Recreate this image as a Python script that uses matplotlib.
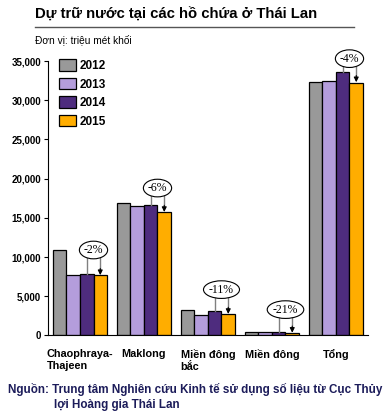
import numpy as np
import matplotlib.pyplot as plt
from matplotlib.patches import Patch

# data (million m3)
groups = ['Chaophraya-\nThajeen', 'Maklong', 'Miền đông\nbắc', 'Miền đông', 'Tổng']
years = ['2012', '2013', '2014', '2015']
v2012 = [10900, 16850, 3200, 400, 32300]
v2013 = [7750, 16450, 2600, 400, 32500]
v2014 = [7900, 16600, 3100, 420, 33550]
v2015 = [7650, 15700, 2700, 300, 32250]
changes = ['-2%', '-6%', '-11%', '-21%', '-4%']
yticks = [0, 5000, 10000, 15000, 20000, 25000, 30000, 35000]

colors = ['#999999', '#b49ddc', '#4e2c7e', '#ffad00']
# ellipse label heights (layout)
lab_y = [10900, 18800, 5850, 3300, 35300]

plt.rcParams['font.family'] = ['Liberation Sans', 'DejaVu Sans']

fig = plt.figure(figsize=(3.84, 4.15), dpi=100)
ax = fig.add_axes([0.125, 0.1916, 0.8333, 0.6614])

x = np.arange(len(groups))
w = 0.211
series = [v2012, v2013, v2014, v2015]
for i, vals in enumerate(series):
    ax.bar(x + (i - 1.5) * w, vals, w, color=colors[i], edgecolor='black',
           linewidth=0.9, label=years[i], zorder=2)

ax.set_xlim(-0.5, 4.5)
ax.set_ylim(0, 35000)
ax.set_yticks(yticks)
ax.set_yticklabels([f'{t:,}' for t in yticks], fontsize=7, fontweight='bold')
ax.tick_params(axis='y', length=3, width=0.8, pad=2)
ax.set_xticks(x)
ax.set_xticklabels(groups, fontsize=7.8, fontweight='bold', multialignment='left')
ax.tick_params(axis='x', length=0, pad=10)
ax.spines['top'].set_visible(False)
ax.spines['right'].set_visible(False)

# change annotations
half = 830
for k in range(len(groups)):
    xp = x[k] + 0.5 * w
    xo = x[k] + 1.5 * w
    yb = lab_y[k] - half
    ax.plot([xp, xp], [v2014[k], yb], color='#808080', lw=1, zorder=3, clip_on=False)
    ax.plot([xo, xo], [yb, v2015[k] + 500], color='#808080', lw=1, zorder=3, clip_on=False)
    ax.annotate('', xy=(xo, v2015[k] + 50), xytext=(xo, v2015[k] + 900),
                arrowprops=dict(arrowstyle='-|>', color='black', lw=0.8,
                                mutation_scale=7, shrinkA=0, shrinkB=0),
                zorder=4, annotation_clip=False)
    ax.text(x[k] + w, lab_y[k], changes[k], ha='center', va='center',
            fontsize=8.5, family='Liberation Serif', zorder=5, clip_on=False,
            bbox=dict(boxstyle='ellipse,pad=0.02', fc='white', ec='black', lw=0.8))

handles = [Patch(facecolor=c, edgecolor='black', linewidth=0.9) for c in colors]
leg = ax.legend(handles, years, loc='upper left', bbox_to_anchor=(0.0, 1.045),
                frameon=False, prop={'weight': 'bold', 'size': 8.5},
                handlelength=1.45, handleheight=1.1, labelspacing=0.5, handletextpad=0.35)

fig.text(35 / 384, 1 - 15 / 415, 'Dự trữ nước tại các hồ chứa ở Thái Lan',
         fontsize=10.7, fontweight='bold', va='center')
fig.add_artist(plt.Line2D([35 / 384, 354 / 384], [1 - 27 / 415] * 2, color='#555555', lw=1))
fig.text(35 / 384, 1 - 40 / 415, 'Đơn vị: triệu mét khối', fontsize=7.3, va='center')
fig.text(8 / 384, 1 - 389 / 415, 'Nguồn: Trung tâm Nghiên cứu Kinh tế sử dụng số liệu từ Cục Thủy',
         fontsize=8.4, fontweight='bold', color='#1c1c5a', va='center')
fig.text(54 / 384, 1 - 405 / 415, 'lợi Hoàng gia Thái Lan',
         fontsize=8.4, fontweight='bold', color='#1c1c5a', va='center')

fig.savefig('out.png', dpi=100)
